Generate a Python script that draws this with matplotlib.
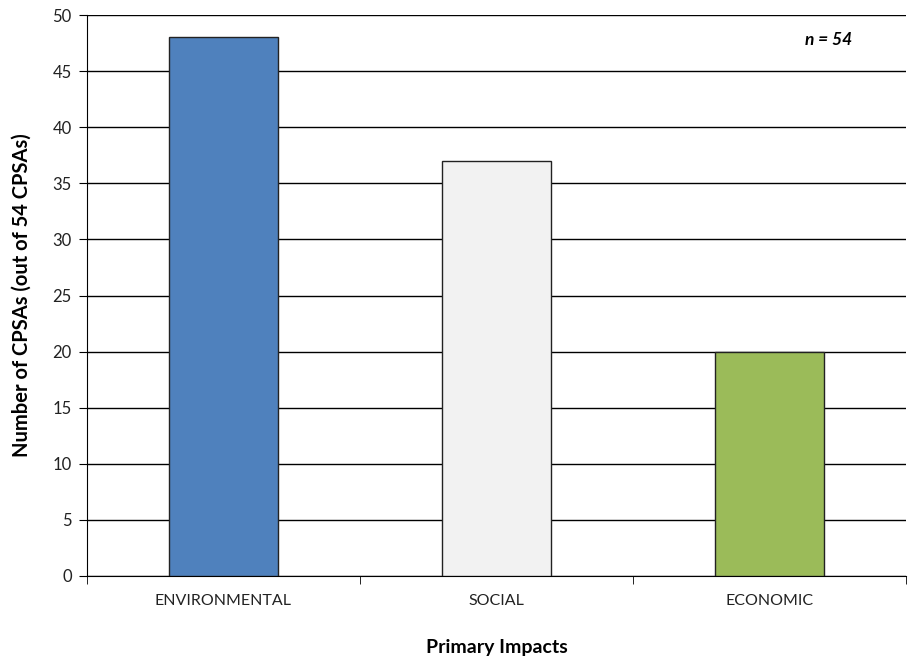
import matplotlib.pyplot as plt
import numpy as np

categories = ["ENVIRONMENTAL", "SOCIAL", "ECONOMIC"]
counts = [48, 37, 20]
colors = ["#4F81BD", "#F2F2F2", "#9BBB59"]

plt.rcParams['font.family'] = ['Lato', 'DejaVu Sans']

fig = plt.figure(figsize=(9.1, 6.6), dpi=100)
ax = fig.add_axes([87 / 910, 84 / 660, 819 / 910, 561 / 660])

x = np.arange(len(categories))
ax.bar(x, counts, width=0.4, color=colors, edgecolor="#222222", linewidth=1, zorder=3)

ax.set_xlim(-0.5, 2.5)
ax.set_ylim(0, 50)
ax.set_yticks(np.arange(0, 51, 5))
ax.yaxis.grid(True, color="black", linewidth=1, zorder=0)
ax.set_axisbelow(True)

ax.set_xticks(x)
ax.set_xticklabels(categories, fontsize=11.5, color="#222222")
ax.set_xticks([-0.5, 0.5, 1.5, 2.5], minor=True)
ax.tick_params(axis='x', which='major', length=0, pad=13)
ax.tick_params(axis='x', which='minor', length=6, direction='out', color='black')
ax.tick_params(axis='y', length=6, direction='out', labelsize=12, labelcolor="#222222", pad=5)

for s in ['top', 'right']:
    ax.spines[s].set_visible(False)
ax.spines['left'].set_color('black')
ax.spines['bottom'].set_color('black')

ax.set_xlabel("Primary Impacts", fontsize=14, fontweight='bold', labelpad=22)
ax.set_ylabel("Number of CPSAs (out of 54 CPSAs)", fontsize=14.5, fontweight='bold', labelpad=15)

ax.text(0.905, 0.955, "n = 54", transform=ax.transAxes, fontsize=12.5,
        fontweight='bold', fontstyle='italic', ha='center', va='center')

fig.savefig("out.png", dpi=100)
